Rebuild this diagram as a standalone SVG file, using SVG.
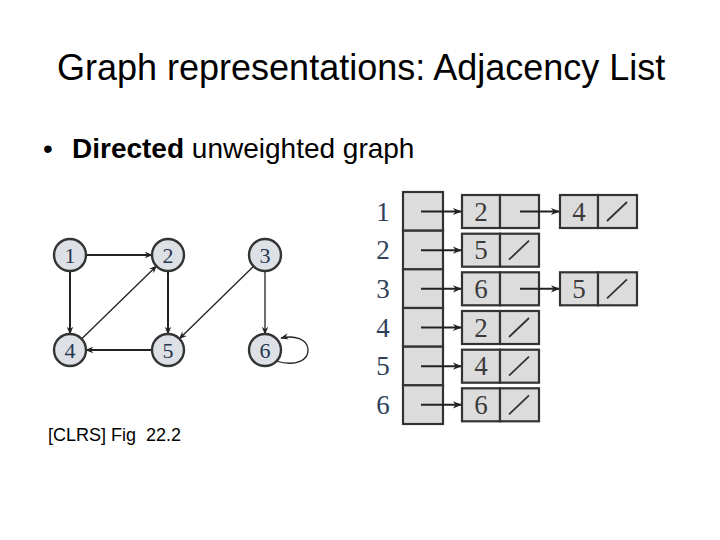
<svg xmlns="http://www.w3.org/2000/svg" width="720" height="540" viewBox="0 0 720 540">
<style>
.title{font-family:"Liberation Sans",Arial,sans-serif;font-size:36px;fill:#000}
.body{font-family:"Liberation Sans",Arial,sans-serif;font-size:28px;fill:#000}
.cap{font-family:"Liberation Sans",Arial,sans-serif;font-size:18px;fill:#000}
.circ{fill:#dde1e6;stroke:#333;stroke-width:2.4}
.nlab{font-family:"Liberation Serif","Times New Roman",serif;font-size:22px;fill:#253650;text-anchor:middle}
.edge{stroke:#222;stroke-width:2;fill:none;marker-end:url(#ah)}
.thin{stroke-width:1.3}
.cell{fill:#dcdcdc;stroke:#333;stroke-width:2.2}
.rlab{font-family:"Liberation Serif","Times New Roman",serif;font-size:27px;fill:#2e405a;text-anchor:middle}
.clab{font-family:"Liberation Serif","Times New Roman",serif;font-size:27px;fill:#3a3a3a;text-anchor:middle}
.ptr{stroke:#222;stroke-width:2;fill:none;marker-end:url(#ah2)}
.nil{stroke:#333;stroke-width:1.8}
</style>
<defs>
<marker id="ah" viewBox="0 0 10 10" refX="9" refY="5" markerWidth="10" markerHeight="8" markerUnits="userSpaceOnUse" orient="auto">
<path d="M0,1 L10,5 L0,9 L3,5 Z" fill="#222"/>
</marker>
<marker id="ah2" viewBox="0 0 10 10" refX="9" refY="5" markerWidth="12" markerHeight="9" markerUnits="userSpaceOnUse" orient="auto">
<path d="M0,1 L10,5 L0,9 L3,5 Z" fill="#222"/>
</marker>
</defs>
<rect width="720" height="540" fill="#fff"/>
<text class="title" x="57" y="80">Graph representations: Adjacency List</text>
<text class="body" x="43" y="158">•</text>
<text class="body" x="72" y="158"><tspan font-weight="bold">Directed</tspan> unweighted graph</text>
<text class="cap" x="48" y="441" xml:space="preserve">[CLRS] Fig  22.2</text>

<g id="edges">
<line class="edge" x1="86" y1="255" x2="152" y2="255"/>
<line class="edge" x1="70" y1="271" x2="70" y2="334"/>
<line class="edge" x1="168" y1="271" x2="168" y2="334"/>
<line class="edge" x1="152" y1="350" x2="86" y2="350"/>
<line class="edge thin" x1="81.5" y1="339" x2="156.5" y2="266"/>
<line class="edge thin" x1="253.6" y1="266.2" x2="179.4" y2="338.8"/>
<line class="edge thin" x1="265" y1="271" x2="265" y2="334"/>
<path class="edge thin" d="M276,361 C296,367 309,360 308,349 C307,339 295,335 281,338"/>
</g>
<g id="n1"><circle class="circ" cx="70" cy="255" r="16"/><text class="nlab" x="70" y="262.5">1</text></g>
<g id="n2"><circle class="circ" cx="168" cy="255" r="16"/><text class="nlab" x="168" y="262.5">2</text></g>
<g id="n3"><circle class="circ" cx="265" cy="255" r="16"/><text class="nlab" x="265" y="262.5">3</text></g>
<g id="n4"><circle class="circ" cx="70" cy="350" r="16"/><text class="nlab" x="70" y="357.5">4</text></g>
<g id="n5"><circle class="circ" cx="168" cy="350" r="16"/><text class="nlab" x="168" y="357.5">5</text></g>
<g id="n6"><circle class="circ" cx="265" cy="350" r="16"/><text class="nlab" x="265" y="357.5">6</text></g>

<g id="adj">
<g id="row1" transform="translate(0,192)">
<text class="rlab" x="383" y="28.5">1</text>
<rect class="cell" x="403" y="0" width="40" height="38.7"/>
<rect class="cell" x="462" y="3" width="38" height="33"/><rect class="cell" x="500" y="3" width="39" height="33"/>
<text class="clab" x="481" y="28.5">2</text>
<line class="ptr" x1="421" y1="19.5" x2="461" y2="19.5"/>
<line class="ptr" x1="520" y1="19.5" x2="559" y2="19.5"/>
<rect class="cell" x="560" y="3" width="38" height="33"/><rect class="cell" x="598" y="3" width="39" height="33"/>
<text class="clab" x="579" y="28.5">4</text>
<line class="nil" x1="607" y1="29" x2="627" y2="10"/>
</g>
<g id="row2" transform="translate(0,230.7)">
<text class="rlab" x="383" y="28.5">2</text>
<rect class="cell" x="403" y="0" width="40" height="38.7"/>
<rect class="cell" x="462" y="3" width="38" height="33"/><rect class="cell" x="500" y="3" width="39" height="33"/>
<text class="clab" x="481" y="28.5">5</text>
<line class="ptr" x1="421" y1="19.5" x2="461" y2="19.5"/>
<line class="nil" x1="509" y1="29" x2="529" y2="10"/>
</g>
<g id="row3" transform="translate(0,269.3)">
<text class="rlab" x="383" y="28.5">3</text>
<rect class="cell" x="403" y="0" width="40" height="38.7"/>
<rect class="cell" x="462" y="3" width="38" height="33"/><rect class="cell" x="500" y="3" width="39" height="33"/>
<text class="clab" x="481" y="28.5">6</text>
<line class="ptr" x1="421" y1="19.5" x2="461" y2="19.5"/>
<line class="ptr" x1="520" y1="19.5" x2="559" y2="19.5"/>
<rect class="cell" x="560" y="3" width="38" height="33"/><rect class="cell" x="598" y="3" width="39" height="33"/>
<text class="clab" x="579" y="28.5">5</text>
<line class="nil" x1="607" y1="29" x2="627" y2="10"/>
</g>
<g id="row4" transform="translate(0,308)">
<text class="rlab" x="383" y="28.5">4</text>
<rect class="cell" x="403" y="0" width="40" height="38.7"/>
<rect class="cell" x="462" y="3" width="38" height="33"/><rect class="cell" x="500" y="3" width="39" height="33"/>
<text class="clab" x="481" y="28.5">2</text>
<line class="ptr" x1="421" y1="19.5" x2="461" y2="19.5"/>
<line class="nil" x1="509" y1="29" x2="529" y2="10"/>
</g>
<g id="row5" transform="translate(0,346.7)">
<text class="rlab" x="383" y="28.5">5</text>
<rect class="cell" x="403" y="0" width="40" height="38.7"/>
<rect class="cell" x="462" y="3" width="38" height="33"/><rect class="cell" x="500" y="3" width="39" height="33"/>
<text class="clab" x="481" y="28.5">4</text>
<line class="ptr" x1="421" y1="19.5" x2="461" y2="19.5"/>
<line class="nil" x1="509" y1="29" x2="529" y2="10"/>
</g>
<g id="row6" transform="translate(0,385.3)">
<text class="rlab" x="383" y="28.5">6</text>
<rect class="cell" x="403" y="0" width="40" height="38.7"/>
<rect class="cell" x="462" y="3" width="38" height="33"/><rect class="cell" x="500" y="3" width="39" height="33"/>
<text class="clab" x="481" y="28.5">6</text>
<line class="ptr" x1="421" y1="19.5" x2="461" y2="19.5"/>
<line class="nil" x1="509" y1="29" x2="529" y2="10"/>
</g>
</g>
</svg>
